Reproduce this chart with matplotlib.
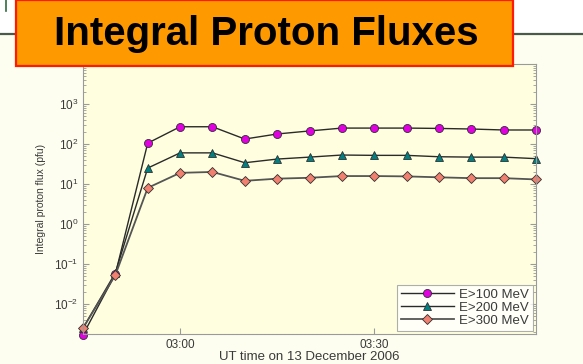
import datetime as dt
import matplotlib
matplotlib.use('Agg')
import matplotlib.pyplot as plt
import matplotlib.dates as mdates
from matplotlib.patches import Rectangle
from matplotlib.lines import Line2D

# Data
times = ['02:45', '02:50', '02:55', '03:00', '03:05', '03:10', '03:15', '03:20',
         '03:25', '03:30', '03:35', '03:40', '03:45', '03:50', '03:55']
e100 = [1.7e-3, 0.056, 105, 270, 270, 133, 178, 212, 250, 250, 250, 245, 237, 224, 224]
e200 = [2.5e-3, 0.060, 25, 60, 60, 34, 42, 47, 53, 52, 52, 48, 47, 47, 43]
e300 = [2.5e-3, 0.053, 8, 19, 20, 12, 13.6, 14.3, 15.8, 15.8, 15.5, 14.7, 14, 14, 13]
labels = ['E>100 MeV', 'E>200 MeV', 'E>300 MeV']

t = [dt.datetime.strptime('2006-12-13 ' + s, '%Y-%m-%d %H:%M') for s in times]

plt.rcParams['font.family'] = 'Liberation Sans'

fig = plt.figure(figsize=(5.83, 3.64), dpi=100, facecolor='#fdfdf0')
ax = fig.add_axes([83 / 583, 1 - 334 / 364, (536 - 83) / 583, (334 - 64) / 364])
ax.set_facecolor('#ffffe0')

# slide decoration
fig.add_artist(Rectangle((0, 1 - 34 / 364), 1, 34 / 364, transform=fig.transFigure,
                         facecolor='white', edgecolor='none', zorder=1))
fig.add_artist(Line2D([0, 1], [1 - 34 / 364] * 2, transform=fig.transFigure,
                      color='#4a5a4a', lw=1.6, zorder=2))
fig.add_artist(Line2D([6 / 583] * 2, [1, 1 - 11 / 364], transform=fig.transFigure,
                      color='#2e6b3e', lw=1.2, zorder=2))
fig.add_artist(Rectangle((16 / 583, 1 - 66 / 364), (513 - 16) / 583, 66 / 364,
                         transform=fig.transFigure, facecolor='#ff9900',
                         edgecolor='#ff1a00', lw=1.6, zorder=5))
fig.text(266 / 583, 1 - 34 / 364, 'Integral Proton Fluxes', ha='center', va='center',
         fontsize=29, fontweight='bold', color='black', zorder=6)

line_kw = dict(color='#2a2a2a', lw=1.0, markeredgecolor='#303030',
               markeredgewidth=0.6, clip_on=False)
ax.plot(t, e100, marker='o', ms=5.8, markerfacecolor='#e000e0', label=labels[0], **line_kw)
ax.plot(t, e200, marker='^', ms=5.8, markerfacecolor='#008080', label=labels[1], **line_kw)
ax.plot(t, e300, marker='D', ms=4.8, markerfacecolor='#f08070', label=labels[2],
        color='#555555', lw=1.3, markeredgecolor='#303030', markeredgewidth=0.6,
        clip_on=False)

ax.set_yscale('log')
ax.set_ylim(10 ** -2.75, 1e4)
ax.set_xlim(t[0], t[-1])
ax.set_yticks([1e-2, 1e-1, 1e0, 1e1, 1e2, 1e3])
ax.xaxis.set_major_locator(mdates.MinuteLocator(byminute=[0, 30]))
ax.xaxis.set_major_formatter(mdates.DateFormatter('%H:%M'))

for s in ax.spines.values():
    s.set_color('#9a9a9a')
ax.tick_params(which='both', direction='in', colors='#9a9a9a', labelcolor='#3a3a3a',
               labelsize=8.5, right=True)
ax.tick_params(which='major', length=4)
ax.tick_params(which='minor', length=2)

ax.set_xlabel('UT time on 13 December 2006', fontsize=9.5, color='#3a3a3a', labelpad=0)
ax.set_ylabel('Integral proton flux (pfu)', fontsize=7.5, color='#3a3a3a', labelpad=6)

leg = ax.legend(loc='lower right', fontsize=9.5, frameon=True, fancybox=False,
                borderaxespad=0.25, handlelength=4.0, labelspacing=0.05,
                borderpad=0.3, handletextpad=0.4)
leg.get_frame().set_edgecolor('#9a9a9a')
leg.get_frame().set_linewidth(0.8)
for txt in leg.get_texts():
    txt.set_color('#3a3a3a')

fig.savefig('out.png', dpi=100, facecolor=fig.get_facecolor())
